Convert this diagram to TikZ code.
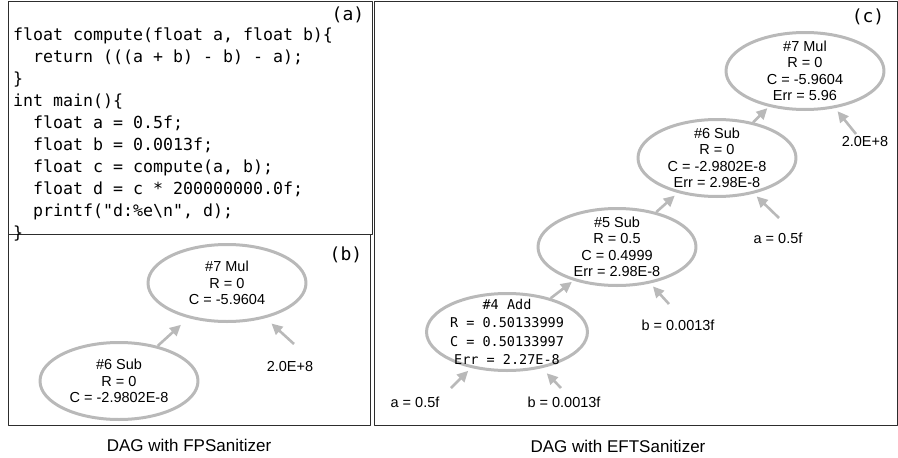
\documentclass[tikz,border=0pt]{standalone}
\usepackage{fontspec}
\setmainfont{Liberation Sans}
\newfontfamily\codefont{DejaVu Sans Mono}
\usepackage{tikz}
\usetikzlibrary{arrows.meta, shapes.geometric}
\definecolor{nodegray}{RGB}{185,185,185}
\definecolor{framegray}{RGB}{45,45,45}
\newcommand{\ind}{\hphantom{xx}}

\tikzset{
  frame/.style={draw=framegray, line width=1pt},
  opnode/.style={ellipse, draw=nodegray, line width=3pt, minimum width=158pt,
    minimum height=77pt, inner xsep=0pt, inner ysep=-8pt, align=center,
    font=\fontsize{14.5}{16.4}\selectfont},
  monotext/.style={font=\codefont\fontsize{13.5}{18.3}\selectfont},
  inlabel/.style={inner sep=1pt, font=\fontsize{14.5}{16}\selectfont},
  flow/.style={->, draw=nodegray, line width=2.6pt, shorten >=4pt},
  tag/.style={inner sep=0pt, font=\codefont\fontsize{18}{20}\selectfont},
  caption/.style={inner sep=0pt, font=\fontsize{17}{19}\selectfont},
  codetext/.style={inner sep=0pt, align=left, font=\codefont\fontsize{16.6}{21.9}\selectfont}
}

\begin{document}
\begin{tikzpicture}[x=1pt, y=-1pt, line join=round, >={Triangle[length=11pt, width=10.5pt]}]
    \useasboundingbox (0,0) rectangle (898,458);

    % Panel frames
    \draw[frame] (8,1.5) rectangle (372,234);
    \draw[frame] (8,234) rectangle (370,425);
    \draw[frame] (374,1.5) rectangle (897,425);

    % (a) source code
    \node[codetext, anchor=north west] (code) at (13,28) {%
float compute(float a, float b)\{\\
\ind return (((a + b) - b) - a);\\
\}\\
int main()\{\\
\ind float a = 0.5f;\\
\ind float b = 0.0013f;\\
\ind float c = compute(a, b);\\
\ind float d = c * 200000000.0f;\\
\ind printf("d:\%e\textbackslash n", d);\\
\}};
    \node[tag] (tagA) at (348,15) {(a)};

    % (b) DAG with FPSanitizer
    \node[tag] (tagB) at (346,255) {(b)};
    \node[opnode] (mulB) at (227,283) {\#7 Mul\\R = 0\\C = -5.9604};
    \node[opnode] (subB) at (119,381) {\#6 Sub\\R = 0\\C = -2.9802E-8};
    \node[inlabel] (constB) at (290,367) {2.0E+8};
    \coordinate (tConstB) at (294,344);
    \draw[flow, shorten >=10pt] (subB) -- (mulB);
    \draw[flow, shorten >=8pt] (tConstB) -- (mulB);

    % (c) DAG with EFTSanitizer
    \node[tag] (tagC) at (868,17) {(c)};
    \node[opnode] (mulC) at (805,71) {\#7 Mul\\R = 0\\C = -5.9604\\Err = 5.96};
    \node[opnode] (subC6) at (717,158) {\#6 Sub\\R = 0\\C = -2.9802E-8\\Err = 2.98E-8};
    \node[opnode] (subC5) at (617,247) {\#5 Sub\\R = 0.5\\C = 0.4999\\Err = 2.98E-8};
    \node[opnode, monotext] (addC) at (507,332) {\#4 Add\\R = 0.50133999\\C = 0.50133997\\Err = 2.27E-8};

    \node[inlabel] (constC) at (865,142) {2.0E+8};
    \node[inlabel] (aC6) at (778,238) {a = 0.5f};
    \node[inlabel] (bC5) at (678,325) {b = 0.0013f};
    \node[inlabel] (aC4) at (415,402) {a = 0.5f};
    \node[inlabel] (bC4) at (564,402) {b = 0.0013f};

    \coordinate (tConstC) at (856,134);
    \coordinate (tA6) at (779,218);
    \coordinate (tB5) at (669,304);
    \coordinate (tA4) at (451,388);
    \coordinate (tB4) at (561,388);

    \draw[flow, shorten >=2pt] (subC6) -- (mulC);
    \draw[flow] (subC5) -- (subC6);
    \draw[flow, shorten >=2pt] (addC) -- (subC5);
    \draw[flow] (tConstC) -- (mulC);
    \draw[flow] (tA6) -- (subC6);
    \draw[flow] (tB5) -- (subC5);
    \draw[flow] (tA4) -- (addC);
    \draw[flow, shorten >=7pt] (tB4) -- (addC);

    % Captions
    \node[caption] (capB) at (189,445) {DAG with FPSanitizer};
    \node[caption] (capC) at (618,446) {DAG with EFTSanitizer};
\end{tikzpicture}
\end{document}
